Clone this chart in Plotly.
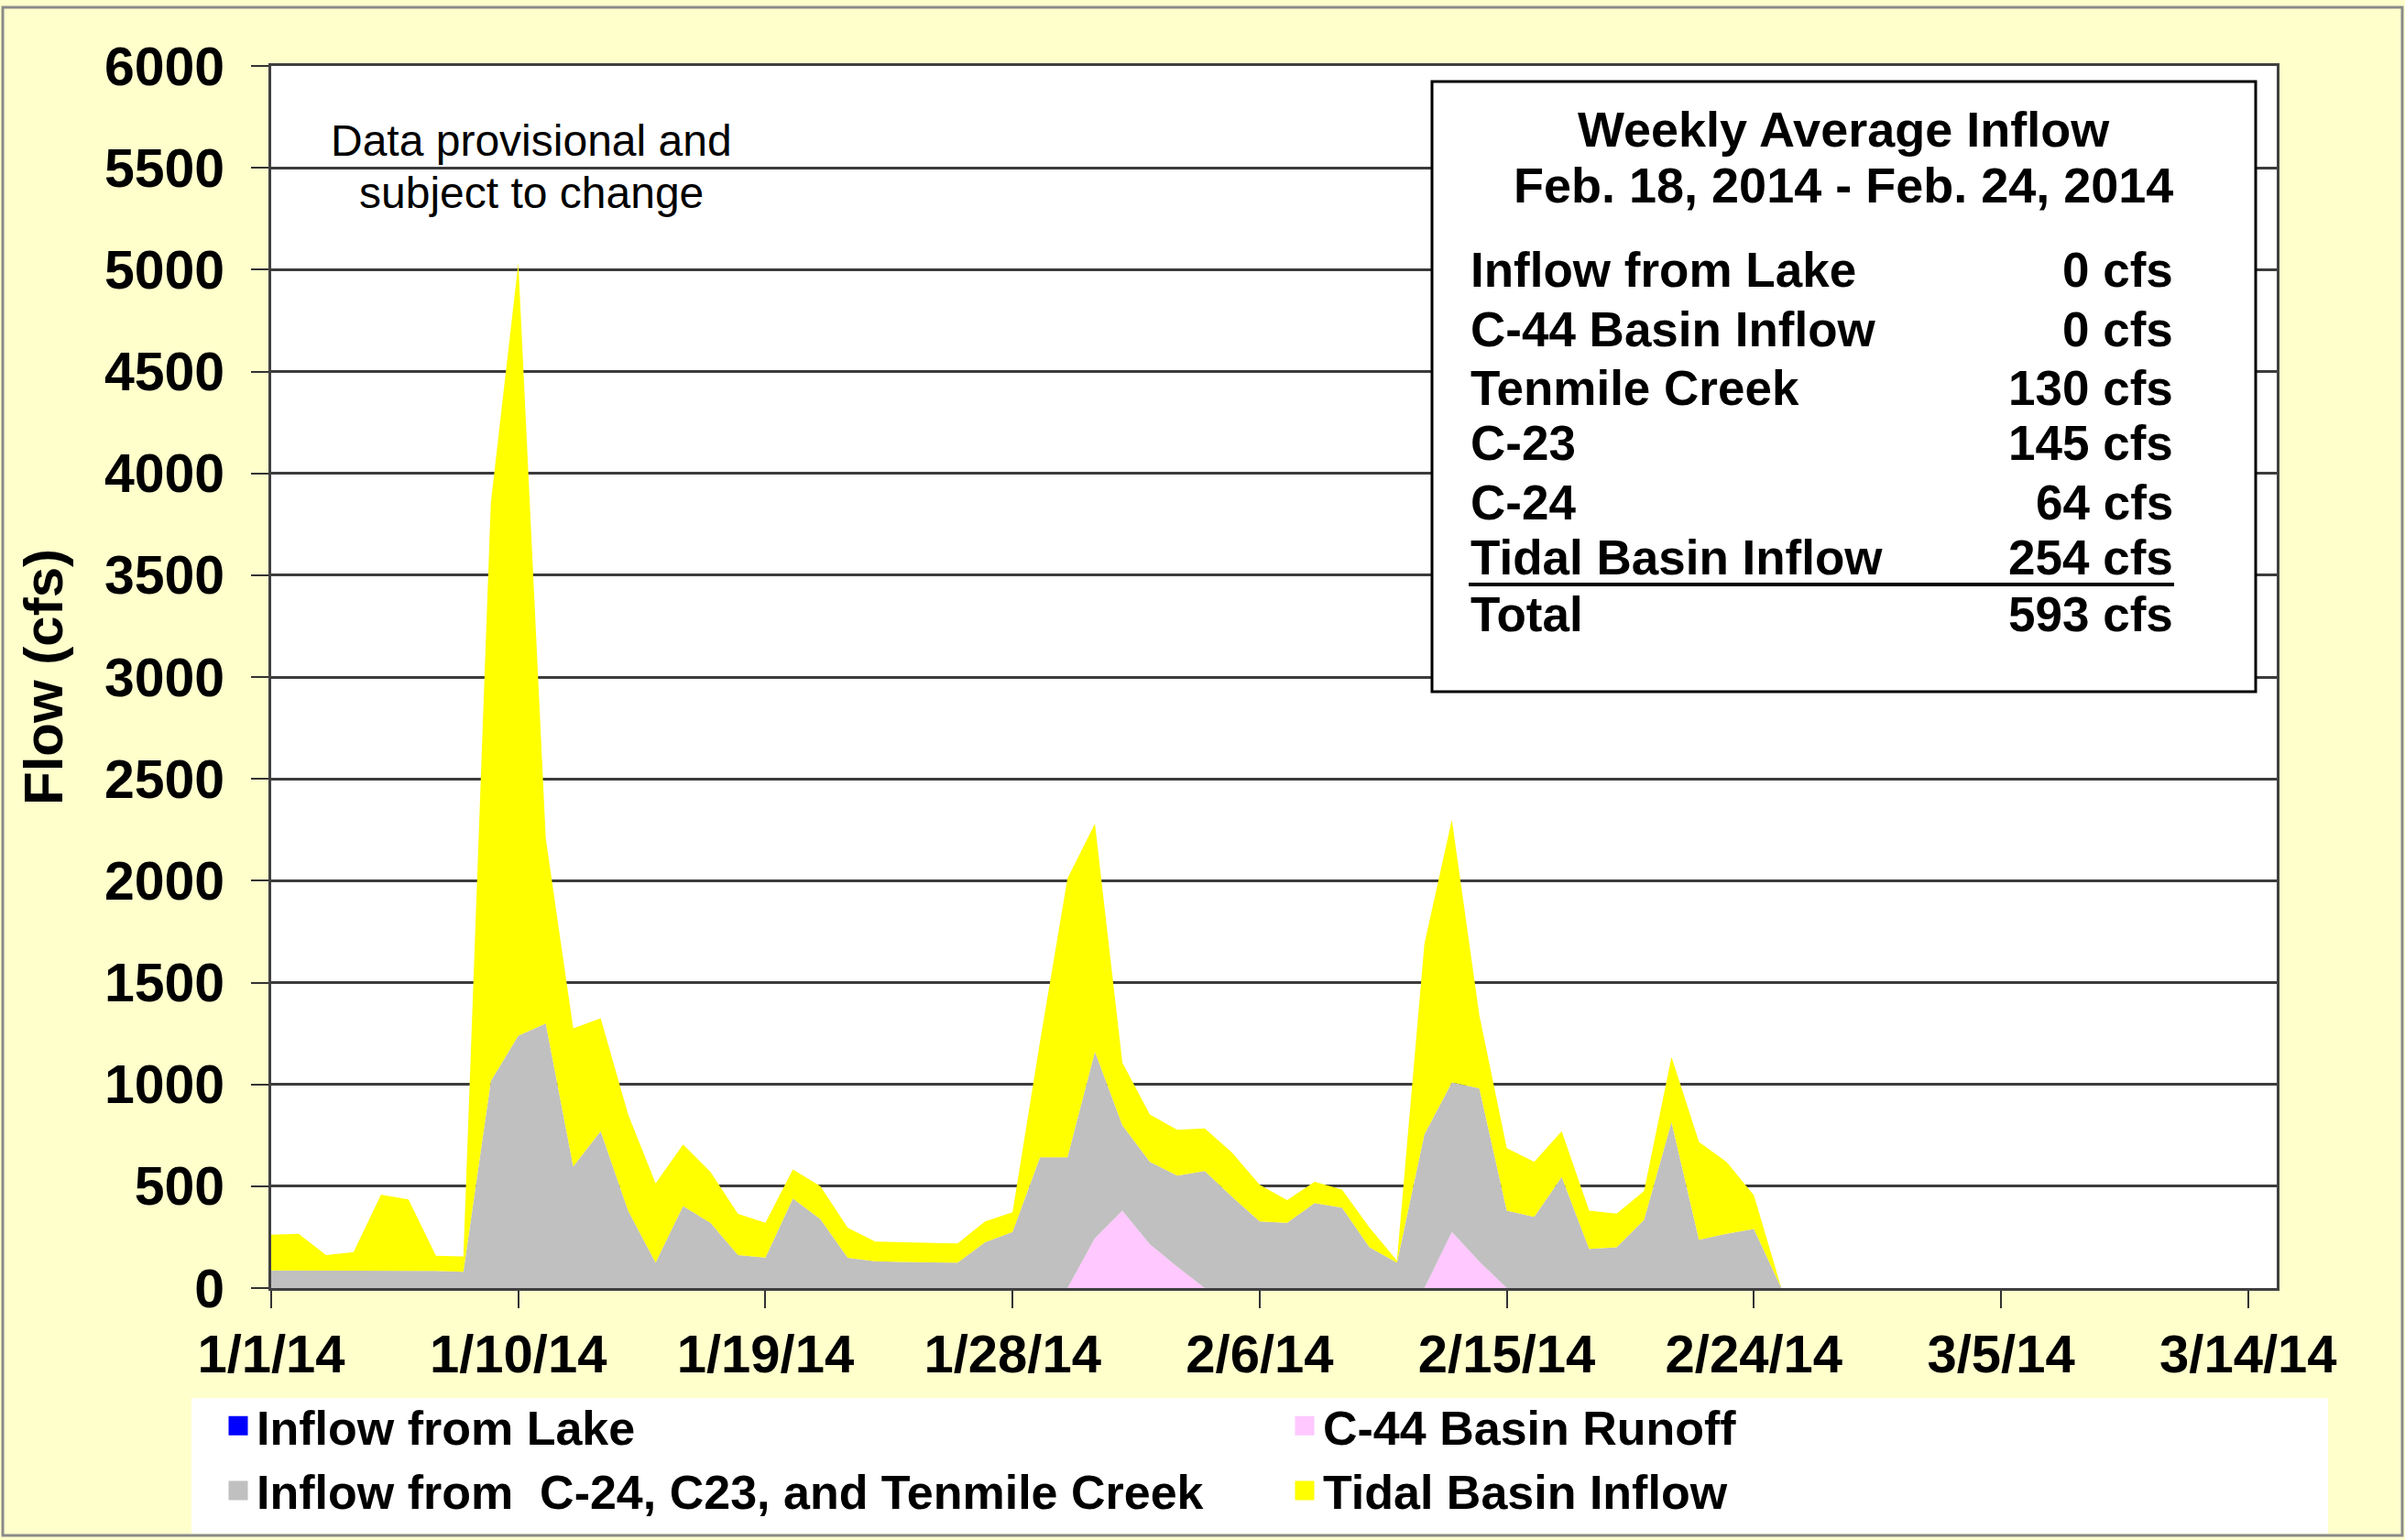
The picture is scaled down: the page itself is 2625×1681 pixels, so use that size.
import plotly.graph_objects as go
import pandas as pd

# ---------------- data ----------------
start_date = "2014-01-01"
n_days = 56  # 1/1/14 .. 2/25/14

inflow_from_lake = [0, 0, 0, 0, 0, 0, 0, 0, 0, 0, 0, 0, 0, 0,
                    0, 0, 0, 0, 0, 0, 0, 0, 0, 0, 0, 0, 0, 0,
                    0, 0, 0, 0, 0, 0, 0, 0, 0, 0, 0, 0, 0, 0,
                    0, 0, 0, 0, 0, 0, 0, 0, 0, 0, 0, 0, 0, 0]

c44_basin_runoff = [0, 0, 0, 0, 0, 0, 0, 0, 0, 0, 0, 0, 0, 0,
                    0, 0, 0, 0, 0, 0, 0, 0, 0, 0, 0, 0, 0, 0,
                    0, 0, 245, 380, 215, 105, 0, 0, 0, 0, 0, 0, 0, 0,
                    0, 275, 130, 0, 0, 0, 0, 0, 0, 0, 0, 0, 0, 0]

c24_c23_tenmile = [87, 87, 84, 84, 87, 87, 84, 80,
                   1017, 1239, 1299, 597, 770, 380, 125, 402,
                   320, 162, 150, 440, 338, 148, 132, 128,
                   126, 125, 225, 275, 642, 642, 915, 420,
                   405, 447, 575, 447, 327, 320, 417, 395,
                   200, 125, 755, 735, 850, 380, 350, 545,
                   192, 200, 335, 815, 237, 267, 290, 0]

tidal_basin_inflow = [175, 180, 78, 93, 372, 348, 75, 75,
                      2838, 3794, 909, 678, 555, 472, 389, 303,
                      250, 202, 170, 142, 162, 148, 96, 97,
                      96, 94, 102, 97, 568, 1368, 1120, 307,
                      232, 225, 209, 217, 180, 112, 105, 89,
                      97, 10, 935, 1290, 360, 307, 270, 225,
                      188, 165, 142, 319, 480, 353, 165, 0]

series_names = ["Inflow from Lake", "C-44 Basin Runoff",
                "Inflow from  C-24, C23, and Tenmile Creek", "Tidal Basin Inflow"]

x_tick_dates = ["2014-01-01", "2014-01-10", "2014-01-19", "2014-01-28", "2014-02-06",
                "2014-02-15", "2014-02-24", "2014-03-05", "2014-03-14"]
x_tick_labels = ["1/1/14", "1/10/14", "1/19/14", "1/28/14", "2/6/14",
                 "2/15/14", "2/24/14", "3/5/14", "3/14/14"]

summary_title = ["Weekly Average Inflow", "Feb. 18, 2014 - Feb. 24, 2014"]
summary_labels = ["Inflow from Lake", "C-44 Basin Inflow", "Tenmile Creek",
                  "C-23", "C-24", "Tidal Basin Inflow", "Total"]
summary_values = ["0 cfs", "0 cfs", "130 cfs", "145 cfs", "64 cfs", "254 cfs", "593 cfs"]

# ---------------- geometry ----------------
W, H = 2625, 1681
PL, PR, PT, PB = 296, 2485, 72, 1406
FONT = "Liberation Sans, Arial, sans-serif"


def px(xp):
    return (xp - PL) / (PR - PL)


def py(yp):
    return (PB - yp) / (PB - PT)


dates = pd.date_range(start_date, periods=n_days, freq="D")

colors = ["#0000FF", "#FFC8FF", "#C0C0C0", "#FFFF00"]
values = [inflow_from_lake, c44_basin_runoff, c24_c23_tenmile, tidal_basin_inflow]
legend_ids = ["legend", "legend2", "legend", "legend2"]

fig = go.Figure()
for name, vals, col in zip(series_names, values, colors):
    fig.add_trace(go.Scatter(
        x=dates, y=vals, name=name, mode="lines",
        stackgroup="one", line=dict(width=0, color=col),
        fillcolor=col, legendgroup=name, showlegend=False,
        hoverinfo="x+y+name",
    ))
# legend entries (square swatches, like the original chart's legend keys)
for name, col, lg in zip(series_names, colors, legend_ids):
    fig.add_trace(go.Scatter(
        x=[None], y=[None], name=name, mode="markers",
        marker=dict(symbol="square", size=16, color=col, line=dict(color=col, width=5)),
        legend=lg, legendgroup=name, showlegend=True, hoverinfo="skip",
    ))

legend_common = dict(
    xanchor="left", yanchor="top", orientation="v", traceorder="normal",
    bgcolor="rgba(0,0,0,0)", font=dict(family=FONT, size=52, weight="bold"),
    tracegroupgap=22, itemwidth=30,
)

fig.update_layout(
    width=W, height=H,
    margin=dict(l=PL, r=W - PR, t=PT, b=H - PB, pad=0),
    paper_bgcolor="#FFFFCC",
    plot_bgcolor="white",
    font=dict(family=FONT, color="black"),
    xaxis=dict(
        type="date",
        range=["2014-01-01", "2014-03-15 01:00"],
        tickmode="array", tickvals=x_tick_dates, ticktext=x_tick_labels,
        ticks="outside", ticklen=19, tickwidth=2, tickcolor="#333333",
        tickfont=dict(family=FONT, size=58, weight="bold"),
        showgrid=False, zeroline=False,
        showline=True, linecolor="#404040", linewidth=3, mirror=True,
        ticklabelstandoff=0,
    ),
    yaxis=dict(
        range=[0, 6000], tick0=0, dtick=500, tickformat="d",
        ticks="outside", ticklen=19, tickwidth=2, tickcolor="#333333",
        tickfont=dict(family=FONT, size=59, weight="bold"),
        showgrid=True, gridcolor="#3c3c3c", gridwidth=2.5,
        zeroline=False,
        showline=True, linecolor="#404040", linewidth=3, mirror=True,
        ticklabelstandoff=17,
        title=dict(text="Flow (cfs)", font=dict(family=FONT, size=60, weight="bold"),
                   standoff=26),
    ),
    legend=dict(x=px(240), y=py(1516), **legend_common),
    legend2=dict(x=px(1404), y=py(1516), **legend_common),
)

shapes = [
    # outer chart border
    dict(type="rect", xref="paper", yref="paper",
         x0=px(3), x1=px(2622), y0=py(1676), y1=py(8),
         line=dict(color="#8a8a8a", width=3), fillcolor="rgba(0,0,0,0)", layer="above"),
    # legend background
    dict(type="rect", xref="paper", yref="paper",
         x0=px(209), x1=px(2541), y0=py(1674), y1=py(1526),
         line=dict(width=0), fillcolor="white", layer="above"),
    # summary box
    dict(type="rect", xref="paper", yref="paper",
         x0=px(1563), x1=px(2462), y0=py(755), y1=py(89),
         line=dict(color="black", width=3), fillcolor="white", layer="above"),
    # underline above total
    dict(type="line", xref="paper", yref="paper",
         x0=px(1603), x1=px(2373), y0=py(638), y1=py(638),
         line=dict(color="black", width=4), layer="above"),
]
fig.update_layout(shapes=shapes)

annotations = [
    dict(text="Data provisional and", x=px(580), y=py(153),
         xref="paper", yref="paper", showarrow=False, xanchor="center", yanchor="middle",
         font=dict(family=FONT, size=48, color="black")),
    dict(text="subject to change", x=px(580), y=py(211),
         xref="paper", yref="paper", showarrow=False, xanchor="center", yanchor="middle",
         font=dict(family=FONT, size=48, color="black")),
]
title_y = [141, 202]
for t, yy in zip(summary_title, title_y):
    annotations.append(dict(text=t, x=px(2012), y=py(yy), xref="paper", yref="paper",
                            showarrow=False, xanchor="center", yanchor="middle",
                            font=dict(family=FONT, size=54, weight="bold")))
row_y = [295, 359, 423, 484, 548, 608, 670]
for lab, val, yy in zip(summary_labels, summary_values, row_y):
    annotations.append(dict(text=lab, x=px(1603), y=py(yy), xref="paper", yref="paper",
                            showarrow=False, xanchor="left", yanchor="middle",
                            font=dict(family=FONT, size=53, weight="bold")))
    annotations.append(dict(text=val, x=px(2374), y=py(yy), xref="paper", yref="paper",
                            showarrow=False, xanchor="right", yanchor="middle",
                            font=dict(family=FONT, size=53, weight="bold")))
fig.update_layout(annotations=annotations)

fig.write_html(
    "out.html",
    config={"displayModeBar": False},
    post_script="document.body.style.margin='0px';document.body.style.overflow='hidden';",
)
